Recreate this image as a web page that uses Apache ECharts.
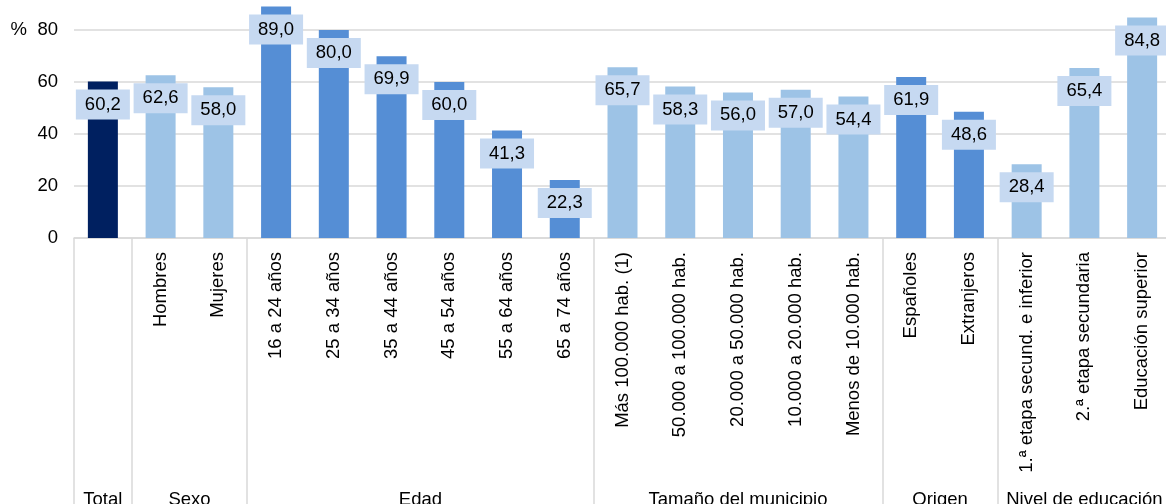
<!DOCTYPE html>
<html>
<head>
<meta charset="utf-8">
<script src="https://cdn.jsdelivr.net/npm/echarts@6/dist/echarts.min.js"></script>
<style>
html,body{margin:0;padding:0;background:#fff;}
#chart{width:1166px;height:504px;}
</style>
</head>
<body>
<div id="chart"></div>
<script>
const categories = ['Total','Hombres','Mujeres','16 a 24 años','25 a 34 años','35 a 44 años','45 a 54 años','55 a 64 años','65 a 74 años','Más 100.000 hab. (1)','50.000 a 100.000 hab.','20.000 a 50.000 hab.','10.000 a 20.000 hab.','Menos de 10.000 hab.','Españoles','Extranjeros','1.ª etapa secund. e inferior','2.ª etapa secundaria','Educación superior'];
const values = [60.2,62.6,58.0,89.0,80.0,69.9,60.0,41.3,22.3,65.7,58.3,56.0,57.0,54.4,61.9,48.6,28.4,65.4,84.8];
const groupNames = ['Total','Sexo','Edad','Tamaño del municipio','Origen','Nivel de educación'];
const groupSizes = [1,2,6,5,2,3];
const groupColors = ['#002060','#9dc3e6','#558ed5','#9dc3e6','#558ed5','#9dc3e6'];
const yTicks = [0,20,40,60,80];

// derived group boundaries / centers (in category units)
const boundaries = [];
const centers = [];
const barColors = [];
let acc = 0;
groupSizes.forEach((s, g) => {
  boundaries.push(acc);
  centers.push(acc + s / 2);
  for (let i = 0; i < s; i++) barColors.push(groupColors[g]);
  acc += s;
});

const FONT = "Arial, 'Liberation Sans', sans-serif";
const FS = 18.5;
const GRAY = '#d9d9d9';

const chart = echarts.init(document.getElementById('chart'), null, {renderer: 'canvas'});
chart.setOption({
  animation: false,
  grid: {left: 74, width: 1097, top: 30, bottom: 266, containLabel: false, outerBoundsMode: 'none'},
  xAxis: [{
    type: 'category',
    data: categories,
    axisLine: {show: true, lineStyle: {color: GRAY, width: 1.5}},
    axisTick: {show: false},
    axisLabel: {
      rotate: 90, fontSize: FS, color: '#000', fontFamily: FONT, margin: 14, interval: 0,
      formatter: (v, i) => i === 0 ? '' : v
    }
  }, {
    type: 'value',
    min: 0, max: acc,
    position: 'bottom',
    axisLine: {show: false},
    splitLine: {show: false},
    axisTick: {show: true, customValues: boundaries, length: 266, lineStyle: {color: GRAY, width: 1.5}},
    axisLabel: {
      show: true, customValues: centers, fontSize: FS, color: '#000', fontFamily: FONT, margin: 252,
      formatter: v => { const k = centers.indexOf(v); return k >= 0 ? groupNames[k] : ''; }
    }
  }],
  yAxis: {
    type: 'value', min: yTicks[0], max: yTicks[yTicks.length - 1], interval: 20,
    axisLine: {show: false}, axisTick: {show: false},
    splitLine: {lineStyle: {color: GRAY, width: 1.5}},
    axisLabel: {
      fontSize: FS, color: '#000', fontFamily: FONT, margin: 16,
      formatter: v => v === 80 ? '{p|%}{v|' + v + '}' : String(v),
      rich: {p: {width: 27, align: 'left', fontSize: FS, fontFamily: FONT, color: '#000'}, v: {fontSize: FS, fontFamily: FONT, color: '#000'}}
    }
  },
  series: [{
    type: 'bar',
    clip: false,
    barWidth: 30,
    data: values.map((v, i) => ({value: v, itemStyle: {color: barColors[i]}})),
    label: {
      show: true, position: 'insideTop', distance: 8,
      formatter: p => p.value.toFixed(1).replace('.', ','),
      fontSize: FS, fontFamily: FONT, color: '#000',
      backgroundColor: '#c6d9f1', padding: [6, 9], lineHeight: 18
    }
  }]
});
</script>
</body>
</html>
